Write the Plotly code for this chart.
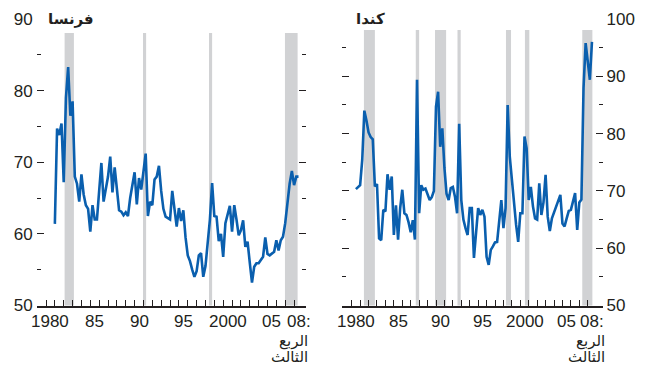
import plotly.graph_objects as go

# ---------------- data ----------------
france_start = 1981.0   # 1981Q1
france_values = [
    61.4, 74.7, 73.8, 75.4, 67.2, 79.0, 83.3, 76.5, 78.5, 68.0,
    67.0, 64.5, 68.3, 65.5, 64.0, 63.5, 60.3, 64.0, 62.0, 62.0,
    66.0, 69.9, 64.5, 66.5, 68.0, 70.8, 65.8, 69.3, 66.5, 63.3,
    63.1, 62.6, 63.0, 62.5, 65.0, 67.0, 68.6, 64.1, 67.8, 66.2,
    69.0, 71.2, 62.5, 64.5, 64.0, 67.6, 68.0, 69.5, 66.0, 63.5,
    62.4, 62.2, 62.0, 66.0, 63.5, 61.0, 63.6, 61.8, 63.3, 59.5,
    57.0, 56.2, 55.0, 54.0, 54.8, 57.0, 57.3, 54.0, 55.5, 58.5,
    62.0, 67.1, 62.5, 62.4, 59.0, 60.0, 56.8, 61.5, 62.6, 63.9,
    60.3, 64.0, 62.0, 59.8, 60.5, 61.9, 58.2, 58.9, 56.0, 53.2,
    55.4, 55.9, 55.9, 56.3, 56.8, 59.5, 57.2, 57.0, 57.3, 57.5,
    59.1, 57.7, 59.1, 59.6, 61.5, 64.5, 67.0, 68.8, 66.8, 68.0,
    68.0,
]
canada_start = 1980.5   # 1980Q3
canada_values = [
    70.3, 70.6, 71.0, 75.4, 84.0, 82.3, 80.2, 79.4, 79.0, 70.8,
    71.2, 61.7, 61.4, 66.7, 66.4, 72.9, 70.2, 72.5, 62.3, 67.5,
    61.5, 67.0, 70.2, 66.1, 65.8, 64.5, 62.8, 64.9, 61.5, 89.4,
    66.1, 71.0, 70.2, 70.4, 69.3, 68.4, 68.9, 70.0, 84.7, 87.3,
    77.7, 80.9, 74.0, 69.5, 68.4, 70.5, 70.7, 69.0, 66.1, 81.7,
    68.4, 65.0, 63.5, 62.3, 67.0, 67.0, 58.3, 63.2, 67.0, 65.8,
    66.7, 65.5, 58.5, 57.1, 59.7, 60.3, 61.0, 61.1, 64.9, 68.4,
    63.5, 67.0, 85.0, 76.0, 72.0, 67.8, 64.1, 61.1, 66.1, 66.1,
    79.5, 77.4, 68.4, 70.7, 67.3, 65.2, 65.0, 71.3, 65.8, 68.0,
    72.8, 65.5, 63.0, 65.2, 66.3, 67.0, 68.1, 69.3, 64.3, 63.8,
    65.2, 66.5, 66.7, 68.0, 69.6, 63.2, 68.0, 68.5, 88.0, 95.8,
    93.0, 89.4, 96.0,
]
france_bands = [(1982.1, 1983.15), (1990.95, 1991.3), (1998.4, 1998.75), (2006.97, 2008.4)]
canada_bands = [(1981.45, 1982.75), (1987.6, 1988.0), (1989.88, 1991.2), (1992.55, 1992.93),
                (1998.3, 1998.9), (2000.55, 2001.07), (2007.35, 2008.55)]
year_ticks = list(range(1980, 2009))
label_years = [1980, 1985, 1990, 1995, 2000, 2005, 2008]
label_texts = ["1980", "85", "90", "95", "2000", "05", "08:"]
france_title = "فرنسا"
canada_title = "كندا"
quarter_note_lines = ["الربع", "الثالث"]

france_x = [france_start + i / 4 for i in range(len(france_values))]
canada_x = [canada_start + i / 4 for i in range(len(canada_values))]

# ---------------- style ----------------
W, H = 652, 365
BLUE = "#0A5FAE"
BAND = "#D1D2D4"
INK = "#231F20"
FONT = "Liberation Sans, DejaVu Sans, sans-serif"

def px(x):
    return x / W

def py(y):
    return 1 - y / H

fig = go.Figure()
fig.add_trace(go.Scatter(x=france_x, y=france_values, mode="lines",
                         line=dict(color=BLUE, width=2.6), xaxis="x", yaxis="y",
                         showlegend=False, hoverinfo="skip"))
fig.add_trace(go.Scatter(x=canada_x, y=canada_values, mode="lines",
                         line=dict(color=BLUE, width=2.6), xaxis="x2", yaxis="y2",
                         showlegend=False, hoverinfo="skip"))

shapes = []
for a, b in france_bands:
    shapes.append(dict(type="rect", xref="x", yref="y domain", x0=a, x1=b, y0=0, y1=0.951,
                       fillcolor=BAND, line=dict(width=0), layer="below"))
for a, b in canada_bands:
    shapes.append(dict(type="rect", xref="x2", yref="y2 domain", x0=a, x1=b, y0=0, y1=0.962,
                       fillcolor=BAND, line=dict(width=0), layer="below"))

xcommon = dict(showgrid=False, zeroline=False, showline=True, linecolor=INK, linewidth=1.5,
               ticks="inside", ticklen=6, tickwidth=1.2, tickcolor=INK, automargin=False,
               tickvals=year_ticks, showticklabels=False)
ycommon = dict(showgrid=False, zeroline=False, showline=False, automargin=False,
               ticks="inside", ticklen=7, tickwidth=1.3, tickcolor=INK, mirror="ticks",
               minor=dict(ticks="inside", ticklen=4, tickwidth=1.3, tickcolor=INK, dtick=5),
               tickfont=dict(family=FONT, size=17, color=INK))

ydom = [py(305.5), py(19)]
fig.update_layout(
    template="none",
    width=W, height=H, autosize=False,
    margin=dict(l=0, r=0, t=0, b=0, pad=0),
    paper_bgcolor="white", plot_bgcolor="white",
    xaxis=dict(domain=[px(36.7), px(305.5)], range=[1978.95, 2009.29], anchor="y", **xcommon),
    yaxis=dict(domain=ydom, range=[50, 90], dtick=10, anchor="x", side="left",
               ticklabelstandoff=3, **ycommon),
    xaxis2=dict(domain=[px(342), px(602.5)], range=[1978.85, 2009.75], anchor="y2", **xcommon),
    yaxis2=dict(domain=ydom, range=[50, 100], dtick=10, anchor="x2", side="right",
                ticklabelstandoff=3, **ycommon),
    shapes=shapes,
)

ann = []
for ax in ("x", "x2"):
    for yr, t in zip(label_years, label_texts):
        ann.append(dict(x=yr + 0.5, y=py(321.5), xref=ax, yref="paper", text=t, showarrow=False,
                        xanchor="center", yanchor="middle",
                        font=dict(family=FONT, size=17, color=INK)))
# quarter note under "08:"
for right in (310, 607):
    for line_text, yc in zip(quarter_note_lines, (340.5, 356.5)):
        ann.append(dict(x=px(right), y=py(yc), xref="paper", yref="paper", text=line_text,
                        showarrow=False, xanchor="right", yanchor="middle", align="right",
                        font=dict(family=FONT, size=15, color=INK)))
# panel titles
ann.append(dict(x=px(96), y=py(19), xref="paper", yref="paper", text="<b>" + france_title + "</b>",
                showarrow=False, xanchor="right", yanchor="middle",
                font=dict(family=FONT, size=15, color=INK)))
ann.append(dict(x=px(387), y=py(18.5), xref="paper", yref="paper", text="<b>" + canada_title + "</b>",
                showarrow=False, xanchor="right", yanchor="middle",
                font=dict(family=FONT, size=15, color=INK)))
fig.update_layout(annotations=ann)

fig.write_html("out.html", config={"displayModeBar": False},
               post_script="document.body.style.margin='0';")
